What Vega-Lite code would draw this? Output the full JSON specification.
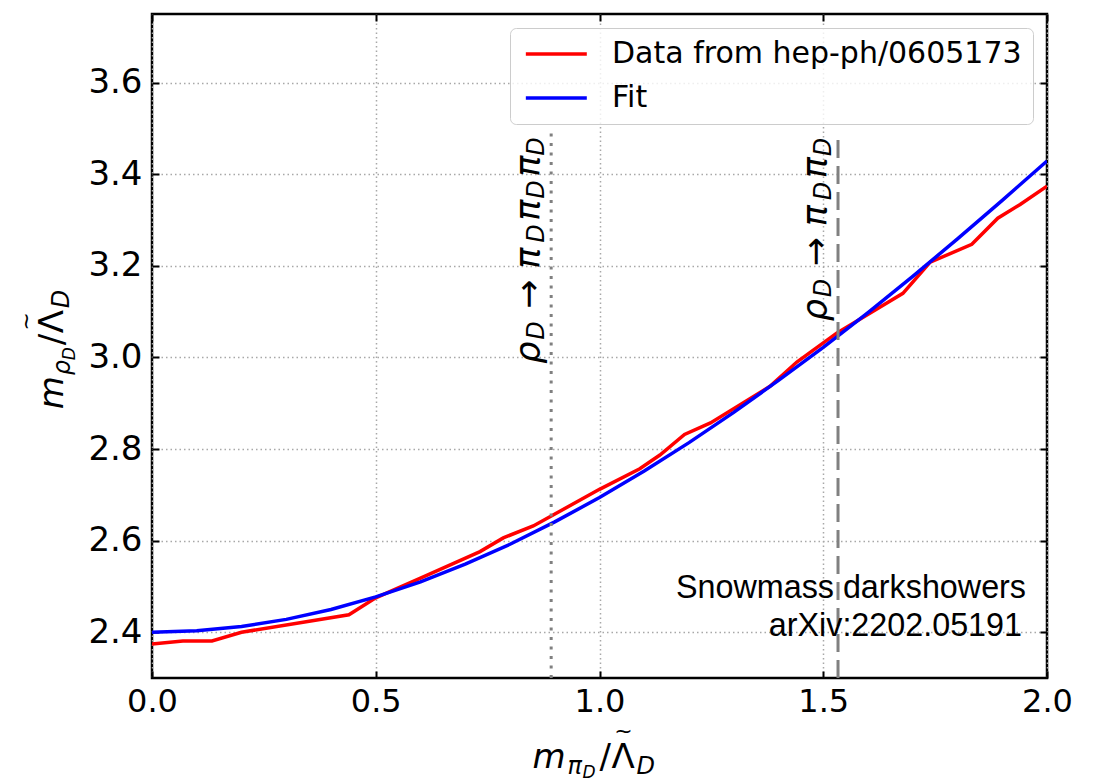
{
  "$schema": "https://vega.github.io/schema/vega-lite/v6.json",
  "width": 895,
  "height": 664,
  "autosize": "none",
  "padding": {"left": 152, "top": 14, "right": 49, "bottom": 105},
  "background": "white",
  "config": {
    "font": "DejaVu Sans",
    "view": {"stroke": "black", "strokeWidth": 2.5},
    "legend": {
      "orient": "top-right", "offset": 14,
      "symbolType": "M-1,0H5", "symbolSize": 413, "symbolStrokeWidth": 3.5,
      "labelFont": "DejaVu Sans", "labelFontSize": 30, "labelColor": "black",
      "labelOffset": 61, "rowPadding": 14, "padding": 11, "labelLimit": 0,
      "fillColor": "rgba(255,255,255,0.8)", "strokeColor": "#cccccc", "cornerRadius": 6
    }
  },
  "datasets": {
    "curves": [
      {"series": "Data from hep-ph/0605173", "x": 0, "y": 2.374},
      {"series": "Data from hep-ph/0605173", "x": 0.069, "y": 2.381},
      {"series": "Data from hep-ph/0605173", "x": 0.134, "y": 2.381},
      {"series": "Data from hep-ph/0605173", "x": 0.2, "y": 2.4},
      {"series": "Data from hep-ph/0605173", "x": 0.44, "y": 2.438},
      {"series": "Data from hep-ph/0605173", "x": 0.5, "y": 2.475},
      {"series": "Data from hep-ph/0605173", "x": 0.6, "y": 2.518},
      {"series": "Data from hep-ph/0605173", "x": 0.733, "y": 2.576},
      {"series": "Data from hep-ph/0605173", "x": 0.785, "y": 2.606},
      {"series": "Data from hep-ph/0605173", "x": 0.852, "y": 2.632},
      {"series": "Data from hep-ph/0605173", "x": 1.0, "y": 2.712},
      {"series": "Data from hep-ph/0605173", "x": 1.09, "y": 2.757},
      {"series": "Data from hep-ph/0605173", "x": 1.135, "y": 2.787},
      {"series": "Data from hep-ph/0605173", "x": 1.19, "y": 2.832},
      {"series": "Data from hep-ph/0605173", "x": 1.248, "y": 2.857},
      {"series": "Data from hep-ph/0605173", "x": 1.381, "y": 2.937},
      {"series": "Data from hep-ph/0605173", "x": 1.441, "y": 2.99},
      {"series": "Data from hep-ph/0605173", "x": 1.53, "y": 3.053},
      {"series": "Data from hep-ph/0605173", "x": 1.605, "y": 3.097},
      {"series": "Data from hep-ph/0605173", "x": 1.678, "y": 3.14},
      {"series": "Data from hep-ph/0605173", "x": 1.739, "y": 3.208},
      {"series": "Data from hep-ph/0605173", "x": 1.832, "y": 3.247},
      {"series": "Data from hep-ph/0605173", "x": 1.89, "y": 3.304},
      {"series": "Data from hep-ph/0605173", "x": 1.94, "y": 3.334},
      {"series": "Data from hep-ph/0605173", "x": 2.0, "y": 3.374},
      {"series": "Fit", "x": 0, "y": 2.4},
      {"series": "Fit", "x": 0.1, "y": 2.403},
      {"series": "Fit", "x": 0.2, "y": 2.4125},
      {"series": "Fit", "x": 0.3, "y": 2.428},
      {"series": "Fit", "x": 0.4, "y": 2.4495},
      {"series": "Fit", "x": 0.5, "y": 2.477},
      {"series": "Fit", "x": 0.6, "y": 2.51},
      {"series": "Fit", "x": 0.7, "y": 2.5485},
      {"series": "Fit", "x": 0.8, "y": 2.592},
      {"series": "Fit", "x": 0.9, "y": 2.641},
      {"series": "Fit", "x": 1.0, "y": 2.694},
      {"series": "Fit", "x": 1.1, "y": 2.752},
      {"series": "Fit", "x": 1.2, "y": 2.814},
      {"series": "Fit", "x": 1.3, "y": 2.88},
      {"series": "Fit", "x": 1.4, "y": 2.95},
      {"series": "Fit", "x": 1.5, "y": 3.022},
      {"series": "Fit", "x": 1.6, "y": 3.098},
      {"series": "Fit", "x": 1.7, "y": 3.177},
      {"series": "Fit", "x": 1.8, "y": 3.259},
      {"series": "Fit", "x": 1.9, "y": 3.343},
      {"series": "Fit", "x": 2.0, "y": 3.429}
    ],
    "labels": [
      {"label": 1, "x": 0.892, "y": 2.986},
      {"label": 2, "x": 1.533, "y": 3.079}
    ],
    "one": [{}]
  },
  "resolve": {"axis": {"x": "independent", "y": "independent"}},
  "layer": [
    {
      "data": {"name": "curves"},
      "transform": [{"filter": "datum.series === 'Data from hep-ph/0605173'"}],
      "mark": {"type": "line", "strokeWidth": 3.5, "clip": true},
      "encoding": {
        "x": {"field": "x", "type": "quantitative",
          "scale": {"domain": [0, 2], "nice": false, "zero": false},
          "axis": {"orient": "bottom", "values": [0, 0.5, 1, 1.5, 2], "format": ".1f", "title": null,
            "labelFont": "DejaVu Sans", "labelFontSize": 32, "labelColor": "black", "labelPadding": 15,
            "labelFlush": false, "labelOverlap": false,
            "tickSize": -7, "tickWidth": 2, "tickColor": "black", "domain": false,
            "grid": true, "gridColor": "#a8a8a8", "gridDash": [1.5, 3], "gridWidth": 1.5}},
        "y": {"field": "y", "type": "quantitative",
          "scale": {"domain": [2.3, 3.75], "nice": false, "zero": false},
          "axis": {"orient": "left", "values": [2.4, 2.6, 2.8, 3.0, 3.2, 3.4, 3.6], "format": ".1f", "title": null,
            "labelFont": "DejaVu Sans", "labelFontSize": 34, "labelColor": "black", "labelPadding": 17,
            "labelFlush": false, "labelOverlap": false,
            "tickSize": -7, "tickWidth": 2, "tickColor": "black", "domain": false,
            "grid": true, "gridColor": "#a8a8a8", "gridDash": [1.5, 3], "gridWidth": 1.5}},
        "color": {"field": "series", "type": "nominal", "title": null,
          "scale": {"domain": ["Data from hep-ph/0605173", "Fit"], "range": ["#ff0000", "#0000ff"]}}
      }
    },
    {
      "data": {"name": "curves"},
      "transform": [{"filter": "datum.series === 'Fit'"}],
      "mark": {"type": "line", "strokeWidth": 3.5, "clip": true},
      "encoding": {
        "x": {"field": "x", "type": "quantitative",
          "scale": {"domain": [0, 2], "nice": false, "zero": false},
          "axis": {"orient": "top", "values": [0, 0.5, 1, 1.5, 2], "labels": false, "title": null,
            "tickSize": -7, "tickWidth": 2, "tickColor": "black", "domain": false, "grid": false}},
        "y": {"field": "y", "type": "quantitative",
          "scale": {"domain": [2.3, 3.75], "nice": false, "zero": false},
          "axis": {"orient": "right", "values": [2.4, 2.6, 2.8, 3.0, 3.2, 3.4, 3.6], "labels": false, "title": null,
            "tickSize": -7, "tickWidth": 2, "tickColor": "black", "domain": false, "grid": false}},
        "color": {"field": "series", "type": "nominal", "title": null,
          "scale": {"domain": ["Data from hep-ph/0605173", "Fit"], "range": ["#ff0000", "#0000ff"]}}
      }
    },
    {
      "data": {"values": [{"x": 0.892}]},
      "mark": {"type": "rule", "color": "#808080", "strokeWidth": 3, "strokeDash": [3, 6.5]},
      "encoding": {
        "x": {"field": "x", "type": "quantitative", "axis": null},
        "y": {"datum": 2.3, "type": "quantitative", "axis": null},
        "y2": {"datum": 3.49}
      }
    },
    {
      "data": {"values": [{"x": 1.533}]},
      "mark": {"type": "rule", "color": "#808080", "strokeWidth": 3, "strokeDash": [18, 8]},
      "encoding": {
        "x": {"field": "x", "type": "quantitative", "axis": null},
        "y": {"datum": 2.3, "type": "quantitative", "axis": null},
        "y2": {"datum": 3.49}
      }
    },
    {
      "data": {"name": "labels"},
      "mark": {"type": "text", "text": "ρ", "angle": 270, "align": "left", "baseline": "alphabetic", "dx": 0, "dy": -11, "font": "DejaVu Sans", "fontStyle": "italic", "fontSize": 35, "color": "black"},
      "encoding": {"x": {"field": "x", "type": "quantitative", "axis": null}, "y": {"field": "y", "type": "quantitative", "axis": null}}
    },
    {
      "data": {"name": "labels"},
      "mark": {"type": "text", "text": "D", "angle": 270, "align": "left", "baseline": "alphabetic", "dx": 24, "dy": -7, "font": "DejaVu Sans", "fontStyle": "italic", "fontSize": 24, "color": "black"},
      "encoding": {"x": {"field": "x", "type": "quantitative", "axis": null}, "y": {"field": "y", "type": "quantitative", "axis": null}}
    },
    {
      "data": {"name": "labels"},
      "mark": {"type": "text", "text": "→", "angle": 270, "align": "left", "baseline": "alphabetic", "dx": 55, "dy": -11, "font": "DejaVu Sans", "fontSize": 35, "color": "black"},
      "encoding": {"x": {"field": "x", "type": "quantitative", "axis": null}, "y": {"field": "y", "type": "quantitative", "axis": null}}
    },
    {
      "data": {"name": "labels"},
      "mark": {"type": "text", "text": "π", "angle": 270, "align": "left", "baseline": "alphabetic", "dx": 95, "dy": -11, "font": "DejaVu Sans", "fontStyle": "italic", "fontSize": 35, "color": "black"},
      "encoding": {"x": {"field": "x", "type": "quantitative", "axis": null}, "y": {"field": "y", "type": "quantitative", "axis": null}}
    },
    {
      "data": {"name": "labels"},
      "mark": {"type": "text", "text": "D", "angle": 270, "align": "left", "baseline": "alphabetic", "dx": 121, "dy": -7, "font": "DejaVu Sans", "fontStyle": "italic", "fontSize": 24, "color": "black"},
      "encoding": {"x": {"field": "x", "type": "quantitative", "axis": null}, "y": {"field": "y", "type": "quantitative", "axis": null}}
    },
    {
      "data": {"name": "labels"},
      "mark": {"type": "text", "text": "π", "angle": 270, "align": "left", "baseline": "alphabetic", "dx": 143, "dy": -11, "font": "DejaVu Sans", "fontStyle": "italic", "fontSize": 35, "color": "black"},
      "encoding": {"x": {"field": "x", "type": "quantitative", "axis": null}, "y": {"field": "y", "type": "quantitative", "axis": null}}
    },
    {
      "data": {"name": "labels"},
      "mark": {"type": "text", "text": "D", "angle": 270, "align": "left", "baseline": "alphabetic", "dx": 165, "dy": -7, "font": "DejaVu Sans", "fontStyle": "italic", "fontSize": 24, "color": "black"},
      "encoding": {"x": {"field": "x", "type": "quantitative", "axis": null}, "y": {"field": "y", "type": "quantitative", "axis": null}}
    },
    {
      "data": {"name": "labels"},
      "transform": [{"filter": "datum.label === 1"}],
      "mark": {"type": "text", "text": "π", "angle": 270, "align": "left", "baseline": "alphabetic", "dx": 187, "dy": -11, "font": "DejaVu Sans", "fontStyle": "italic", "fontSize": 35, "color": "black"},
      "encoding": {"x": {"field": "x", "type": "quantitative", "axis": null}, "y": {"field": "y", "type": "quantitative", "axis": null}}
    },
    {
      "data": {"name": "labels"},
      "transform": [{"filter": "datum.label === 1"}],
      "mark": {"type": "text", "text": "D", "angle": 270, "align": "left", "baseline": "alphabetic", "dx": 208, "dy": -7, "font": "DejaVu Sans", "fontStyle": "italic", "fontSize": 24, "color": "black"},
      "encoding": {"x": {"field": "x", "type": "quantitative", "axis": null}, "y": {"field": "y", "type": "quantitative", "axis": null}}
    },
    {
      "data": {"name": "one"},
      "mark": {"type": "text", "text": "Snowmass darkshowers", "align": "right", "baseline": "alphabetic", "dx": -21, "dy": -34, "font": "Liberation Sans", "fontSize": 32.3, "color": "black"},
      "encoding": {"x": {"datum": 2.0, "type": "quantitative", "axis": null}, "y": {"datum": 2.4, "type": "quantitative", "axis": null}}
    },
    {
      "data": {"name": "one"},
      "mark": {"type": "text", "text": "arXiv:2202.05191", "align": "right", "baseline": "alphabetic", "dx": -25, "dy": 4, "font": "Liberation Sans", "fontSize": 32.3, "color": "black"},
      "encoding": {"x": {"datum": 2.0, "type": "quantitative", "axis": null}, "y": {"datum": 2.4, "type": "quantitative", "axis": null}}
    },
    {
      "data": {"name": "one"},
      "mark": {"type": "text", "text": "m", "align": "left", "baseline": "alphabetic", "dx": -67, "dy": 90, "font": "DejaVu Sans", "fontStyle": "italic", "fontSize": 34, "color": "black"},
      "encoding": {"x": {"datum": 1.0, "type": "quantitative", "axis": null}, "y": {"datum": 2.3, "type": "quantitative", "axis": null}}
    },
    {
      "data": {"name": "one"},
      "mark": {"type": "text", "text": "π", "align": "left", "baseline": "alphabetic", "dx": -32, "dy": 96, "font": "DejaVu Sans", "fontStyle": "italic", "fontSize": 24, "color": "black"},
      "encoding": {"x": {"datum": 1.0, "type": "quantitative", "axis": null}, "y": {"datum": 2.3, "type": "quantitative", "axis": null}}
    },
    {
      "data": {"name": "one"},
      "mark": {"type": "text", "text": "D", "align": "left", "baseline": "alphabetic", "dx": -17, "dy": 100, "font": "DejaVu Sans", "fontStyle": "italic", "fontSize": 17, "color": "black"},
      "encoding": {"x": {"datum": 1.0, "type": "quantitative", "axis": null}, "y": {"datum": 2.3, "type": "quantitative", "axis": null}}
    },
    {
      "data": {"name": "one"},
      "mark": {"type": "text", "text": "/", "align": "left", "baseline": "alphabetic", "dx": 0, "dy": 90, "font": "DejaVu Sans", "fontSize": 34, "color": "black"},
      "encoding": {"x": {"datum": 1.0, "type": "quantitative", "axis": null}, "y": {"datum": 2.3, "type": "quantitative", "axis": null}}
    },
    {
      "data": {"name": "one"},
      "mark": {"type": "text", "text": "Λ", "align": "left", "baseline": "alphabetic", "dx": 12, "dy": 90, "font": "DejaVu Sans", "fontSize": 34, "color": "black"},
      "encoding": {"x": {"datum": 1.0, "type": "quantitative", "axis": null}, "y": {"datum": 2.3, "type": "quantitative", "axis": null}}
    },
    {
      "data": {"name": "one"},
      "mark": {"type": "text", "text": "~", "align": "center", "baseline": "alphabetic", "dx": 24, "dy": 60, "font": "DejaVu Sans", "fontSize": 22, "color": "black"},
      "encoding": {"x": {"datum": 1.0, "type": "quantitative", "axis": null}, "y": {"datum": 2.3, "type": "quantitative", "axis": null}}
    },
    {
      "data": {"name": "one"},
      "mark": {"type": "text", "text": "D", "align": "left", "baseline": "alphabetic", "dx": 37, "dy": 96, "font": "DejaVu Sans", "fontStyle": "italic", "fontSize": 24, "color": "black"},
      "encoding": {"x": {"datum": 1.0, "type": "quantitative", "axis": null}, "y": {"datum": 2.3, "type": "quantitative", "axis": null}}
    },
    {
      "data": {"name": "one"},
      "mark": {"type": "text", "text": "m", "angle": 270, "align": "left", "baseline": "alphabetic", "dx": -6, "dy": 0, "font": "DejaVu Sans", "fontStyle": "italic", "fontSize": 34, "color": "black"},
      "encoding": {"x": {"datum": -0.2, "type": "quantitative", "axis": null}, "y": {"datum": 2.9, "type": "quantitative", "axis": null}}
    },
    {
      "data": {"name": "one"},
      "mark": {"type": "text", "text": "ρ", "angle": 270, "align": "left", "baseline": "alphabetic", "dx": 28, "dy": 7, "font": "DejaVu Sans", "fontStyle": "italic", "fontSize": 24, "color": "black"},
      "encoding": {"x": {"datum": -0.2, "type": "quantitative", "axis": null}, "y": {"datum": 2.9, "type": "quantitative", "axis": null}}
    },
    {
      "data": {"name": "one"},
      "mark": {"type": "text", "text": "D", "angle": 270, "align": "left", "baseline": "alphabetic", "dx": 43, "dy": 12, "font": "DejaVu Sans", "fontStyle": "italic", "fontSize": 17, "color": "black"},
      "encoding": {"x": {"datum": -0.2, "type": "quantitative", "axis": null}, "y": {"datum": 2.9, "type": "quantitative", "axis": null}}
    },
    {
      "data": {"name": "one"},
      "mark": {"type": "text", "text": "/", "angle": 270, "align": "left", "baseline": "alphabetic", "dx": 58, "dy": 0, "font": "DejaVu Sans", "fontSize": 34, "color": "black"},
      "encoding": {"x": {"datum": -0.2, "type": "quantitative", "axis": null}, "y": {"datum": 2.9, "type": "quantitative", "axis": null}}
    },
    {
      "data": {"name": "one"},
      "mark": {"type": "text", "text": "Λ", "angle": 270, "align": "left", "baseline": "alphabetic", "dx": 70, "dy": 0, "font": "DejaVu Sans", "fontSize": 34, "color": "black"},
      "encoding": {"x": {"datum": -0.2, "type": "quantitative", "axis": null}, "y": {"datum": 2.9, "type": "quantitative", "axis": null}}
    },
    {
      "data": {"name": "one"},
      "mark": {"type": "text", "text": "~", "angle": 270, "align": "center", "baseline": "alphabetic", "dx": 82, "dy": -30, "font": "DejaVu Sans", "fontSize": 22, "color": "black"},
      "encoding": {"x": {"datum": -0.2, "type": "quantitative", "axis": null}, "y": {"datum": 2.9, "type": "quantitative", "axis": null}}
    },
    {
      "data": {"name": "one"},
      "mark": {"type": "text", "text": "D", "angle": 270, "align": "left", "baseline": "alphabetic", "dx": 95, "dy": 6, "font": "DejaVu Sans", "fontStyle": "italic", "fontSize": 24, "color": "black"},
      "encoding": {"x": {"datum": -0.2, "type": "quantitative", "axis": null}, "y": {"datum": 2.9, "type": "quantitative", "axis": null}}
    }
  ]
}
